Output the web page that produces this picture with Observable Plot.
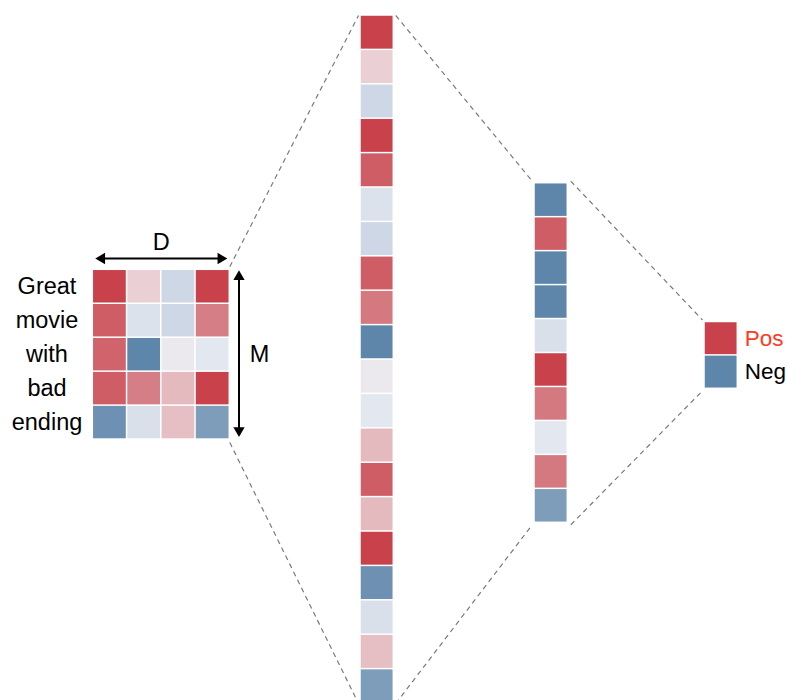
<!DOCTYPE html>
<html>
<head>
<meta charset="utf-8">
<script src="https://cdn.jsdelivr.net/npm/d3@7"></script>
<script src="https://cdn.jsdelivr.net/npm/@observablehq/plot@0.6"></script>
<style>
  html, body { margin: 0; padding: 0; background: #fff; }
  #chart svg { display: block; }
</style>
</head>
<body>
<div id="chart"></div>
<script>
// ---- data ----
const words = ["Great", "movie", "with", "bad", "ending"];
const embedding = [
  [0.98, 0.14, -0.18, 0.98],
  [0.82, -0.08, -0.18, 0.62],
  [0.78, -0.97, 0.0, -0.03],
  [0.82, 0.62, 0.27, 0.98],
  [-0.86, -0.1, 0.24, -0.75]
];
const flattened = [0.98, 0.14, -0.18, 0.98, 0.82, -0.08, -0.18, 0.82, 0.65, -0.97,
                   0.0, -0.03, 0.27, 0.82, 0.27, 0.98, -0.86, -0.1, 0.24, -0.75];
const hidden = [-0.97, 0.82, -0.97, -0.97, -0.1, 0.98, 0.65, -0.03, 0.65, -0.75];
const outputValues = [0.98, -0.97];
const outputLabels = ["Pos", "Neg"];
const dimLabels = ["D", "M"];

// ---- layout ----
const W = 787, H = 700;
const mat = {x: 92.3, y: 269.3, cw: 34.25, ch: 33.95};
const mid = {x: 360, y: 15, cw: 33.3, ch: 34.4};
const hid = {x: 534, y: 182.7, cw: 33.3, ch: 33.96};
const out = {x: 704, y: 321.5, cw: 33.3, ch: 33.4};

const cells = [];
embedding.forEach((row, r) => row.forEach((v, c) => cells.push({
  x1: mat.x + c * mat.cw, x2: mat.x + (c + 1) * mat.cw,
  y1: mat.y + r * mat.ch, y2: mat.y + (r + 1) * mat.ch, v})));
flattened.forEach((v, i) => cells.push({
  x1: mid.x, x2: mid.x + mid.cw, y1: mid.y + i * mid.ch, y2: mid.y + (i + 1) * mid.ch, v}));
hidden.forEach((v, i) => cells.push({
  x1: hid.x, x2: hid.x + hid.cw, y1: hid.y + i * hid.ch, y2: hid.y + (i + 1) * hid.ch, v}));
outputValues.forEach((v, i) => cells.push({
  x1: out.x, x2: out.x + out.cw, y1: out.y + i * out.ch, y2: out.y + (i + 1) * out.ch, v}));

const matR = mat.x + 4 * mat.cw, matB = mat.y + 5 * mat.ch;
const midB = mid.y + flattened.length * mid.ch, midR = mid.x + mid.cw;
const hidB = hid.y + hidden.length * hid.ch, hidR = hid.x + hid.cw;
const outB = out.y + outputValues.length * out.ch;
const links = [
  {x1: matR, y1: mat.y - 3, x2: mid.x - 2, y2: mid.y},
  {x1: matR, y1: matB + 3, x2: mid.x - 2, y2: midB},
  {x1: midR + 2, y1: mid.y, x2: hid.x - 3, y2: hid.y - 3},
  {x1: midR + 2, y1: midB, x2: hid.x - 3, y2: hidB + 3},
  {x1: hidR + 3, y1: hid.y - 2, x2: out.x - 2, y2: out.y - 2},
  {x1: hidR + 3, y1: hidB + 2, x2: out.x - 2, y2: outB + 2}
];

const wordTexts = words.map((w, r) => ({x: 46.5, y: mat.y + (r + 0.5) * mat.ch, t: w}));
const outTexts = outputLabels.map((t, i) => ({x: out.x + out.cw + 7, y: out.y + (i + 0.5) * out.ch, t,
  color: i === 0 ? "#ff3a20" : "#000"}));

const dY = 258, mX = 238.5;
const arrowLines = [
  {x1: mat.x + 9, y1: dY, x2: matR - 9, y2: dY},
  {x1: mX, y1: mat.y + 7, x2: mX, y2: matB - 9}
];
const heads = [
  {x: mat.x + 9, y: dY, rot: -90},
  {x: matR - 9, y: dY, rot: 90},
  {x: mX, y: mat.y + 7, rot: 0},
  {x: mX, y: matB - 9, rot: 180}
];
const dimTexts = [
  {x: (mat.x + matR) / 2, y: 242, t: dimLabels[0]},
  {x: 259, y: (mat.y + matB) / 2, t: dimLabels[1]}
];

const chart = Plot.plot({
  width: W, height: H, margin: 0,
  style: {fontFamily: "'Liberation Sans', Arial, Helvetica, sans-serif", background: "#fff"},
  x: {domain: [0, W], range: [0, W], axis: null},
  y: {domain: [0, H], range: [0, H], axis: null},
  color: {type: "linear", domain: [-1, -0.01, 0.01, 1],
          range: ["#5a83a9", "#e6e9f1", "#efe6ea", "#c73e48"]},
  marks: [
    Plot.link(links, {x1: "x1", y1: "y1", x2: "x2", y2: "y2", stroke: "#7a7a7a",
      strokeWidth: 1.2, strokeDasharray: "5,4"}),
    Plot.rect(cells, {x1: "x1", x2: "x2", y1: "y1", y2: "y2", fill: "v", inset: 0.75}),
    Plot.link(arrowLines, {x1: "x1", y1: "y1", x2: "x2", y2: "y2", stroke: "#000", strokeWidth: 2}),
    Plot.dot(heads, {x: "x", y: "y", rotate: "rot", symbol: "triangle", r: 4.2, fill: "#000", stroke: null}),
    Plot.text(wordTexts, {x: "x", y: "y", text: "t", fontSize: 23.5, fill: "#000", textAnchor: "middle"}),
    Plot.text(dimTexts, {x: "x", y: "y", text: "t", fontSize: 23.5, fill: "#000", textAnchor: "middle"}),
    Plot.text(outTexts, {x: "x", y: "y", text: "t", fontSize: 22.5, fill: "color", textAnchor: "start"})
  ]
});
document.getElementById("chart").appendChild(chart);
</script>
</body>
</html>
